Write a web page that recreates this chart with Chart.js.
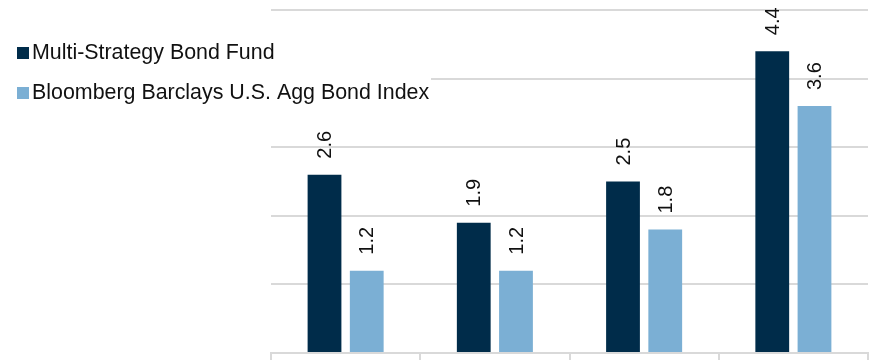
<!DOCTYPE html>
<html>
<head>
<meta charset="utf-8">
<script src="https://cdn.jsdelivr.net/npm/chart.js@4"></script>
<style>
    html, body { margin: 0; padding: 0; background: #fff; }
    #wrap { width: 869px; height: 360px; }
</style>
</head>
<body>
<div id="wrap"><canvas id="bar-chart"></canvas></div>
<script>
const categories = ['Period 1', 'Period 2', 'Period 3', 'Period 4'];
const fundLabel = 'Multi-Strategy Bond Fund';
const fundValues = [2.6, 1.9, 2.5, 4.4];
const indexLabel = 'Bloomberg Barclays U.S. Agg Bond Index';
const indexValues = [1.2, 1.2, 1.8, 3.6];
const yMin = 0, yMax = 5, yStep = 1;

const FONT = '"Liberation Sans", Arial, sans-serif';
const GRID = '#d9d9d9';

// vertical value labels sitting above each bar
const barValueLabels = {
    id: 'barValueLabels',
    afterDatasetsDraw(chart) {
        const ctx = chart.ctx;
        ctx.save();
        ctx.font = '20px ' + FONT;
        ctx.fillStyle = '#111';
        ctx.textAlign = 'left';
        ctx.textBaseline = 'middle';
        chart.data.datasets.forEach((ds, i) => {
            chart.getDatasetMeta(i).data.forEach((bar, j) => {
                ctx.save();
                ctx.translate(bar.x + 1, bar.y - 16);
                ctx.rotate(-Math.PI / 2);
                ctx.fillText(ds.data[j].toFixed(1), 0, 0);
                ctx.restore();
            });
        });
        ctx.restore();
    }
};

// legend floating over the left part of the plot, with a white backing
const sideLegend = {
    id: 'sideLegend',
    afterDraw(chart) {
        const ctx = chart.ctx;
        ctx.save();
        ctx.fillStyle = '#fff';
        ctx.fillRect(0, 30, 431, 82);
        ctx.font = '21.4px ' + FONT;
        ctx.textBaseline = 'middle';
        chart.data.datasets.forEach((ds, i) => {
            const y = 53 + i * 40;
            ctx.fillStyle = ds.backgroundColor;
            ctx.fillRect(17, y - 6, 12, 12);
            ctx.fillStyle = '#111';
            ctx.fillText(ds.label, 32, y + 0.5);
        });
        ctx.restore();
    }
};

new Chart(document.getElementById('bar-chart'), {
    type: 'bar',
    data: {
        labels: categories,
        datasets: [{
            label: fundLabel,
            data: fundValues,
            backgroundColor: '#002c4a'
        }, {
            label: indexLabel,
            data: indexValues,
            backgroundColor: '#7bafd4'
        }]
    },
    options: {
        responsive: true,
        maintainAspectRatio: false,
        animation: false,
        categoryPercentage: 0.566,
        barPercentage: 0.8,
        layout: { padding: { left: 271, right: 1, top: 10, bottom: 0 } },
        plugins: {
            legend: { display: false },
            tooltip: { enabled: false }
        },
        scales: {
            x: {
                ticks: { display: false },
                grid: {
                    drawOnChartArea: false,
                    drawTicks: true,
                    tickLength: 7,
                    color: GRID,
                    lineWidth: 2
                },
                border: { display: true, color: GRID, width: 2 }
            },
            y: {
                min: yMin,
                max: yMax,
                ticks: { display: false, stepSize: yStep },
                grid: { color: GRID, lineWidth: 2, drawTicks: false },
                border: { display: false }
            }
        }
    },
    plugins: [barValueLabels, sideLegend]
});
</script>
</body>
</html>
